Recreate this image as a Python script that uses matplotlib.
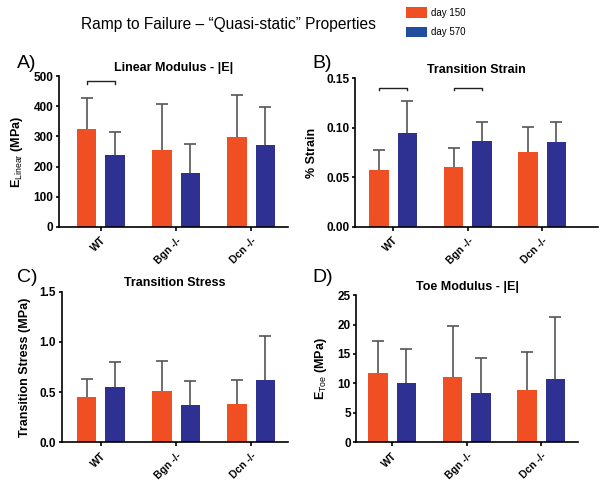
import numpy as np
import matplotlib
matplotlib.use("Agg")
import matplotlib.pyplot as plt
from matplotlib.patches import Patch

# datos de las barras
groups = ["WT", "Bgn -/-", "Dcn -/-"]
series = ["day 150", "day 570"]

lin_mod_150 = [325, 254, 299]
lin_mod_150_top = [427, 407, 438]
lin_mod_570 = [237, 180, 273]
lin_mod_570_top = [316, 276, 399]

strain_150 = [0.057, 0.060, 0.075]
strain_150_top = [0.078, 0.080, 0.101]
strain_570 = [0.095, 0.087, 0.086]
strain_570_top = [0.127, 0.106, 0.106]

stress_150 = [0.45, 0.51, 0.38]
stress_150_top = [0.63, 0.81, 0.62]
stress_570 = [0.55, 0.37, 0.62]
stress_570_top = [0.80, 0.61, 1.06]

toe_150 = [11.7, 11.0, 8.8]
toe_150_top = [17.2, 19.8, 15.4]
toe_570 = [10.1, 8.4, 10.8]
toe_570_top = [15.9, 14.4, 21.3]

orange = "#F04E23"
blue = "#2E3192"
err_col = "#555555"

plt.rcParams["font.family"] = ["Liberation Sans", "DejaVu Sans"]
plt.rcParams["mathtext.fontset"] = "custom"
plt.rcParams["mathtext.rm"] = "Liberation Sans"

fig = plt.figure(figsize=(6, 4.88), dpi=100)


def panel(rect, title, ylabel, v150, t150, v570, t570, ylim, yticks, fmt, xlim, brackets=None):
    ax = fig.add_axes(rect)
    x = np.arange(len(groups))
    off = 0.19
    w = 0.26
    ax.bar(x - off, v150, w, color=orange, zorder=2)
    ax.bar(x + off, v570, w, color=blue, zorder=2)
    # barras de error: simetricas, la mitad inferior queda tapada por la barra
    for xs, v, t in ((x - off, v150, t150), (x + off, v570, t570)):
        err = np.array(t) - np.array(v)
        ax.errorbar(xs, v, yerr=err, fmt="none",
                    ecolor=err_col, elinewidth=1.2, capsize=4, capthick=1.2, zorder=1)
    if brackets:
        for gi, yb in brackets:
            h = (ylim[1] - ylim[0]) * 0.015
            ax.plot([gi - off, gi - off, gi + off, gi + off], [yb - h, yb, yb, yb - h],
                    color="#222222", lw=1, clip_on=False)
    ax.set_xlim(*xlim)
    ax.set_ylim(*ylim)
    ax.set_yticks(yticks)
    ax.set_yticklabels([fmt.format(v) for v in yticks], fontweight="bold", fontsize=8.5)
    ax.set_xticks(x)
    ax.set_xticklabels(groups, rotation=45, ha="right", rotation_mode="anchor",
                       fontweight="bold", fontsize=7.5)
    for s in ("top", "right"):
        ax.spines[s].set_visible(False)
    ax.spines["left"].set_linewidth(1.2)
    ax.spines["bottom"].set_linewidth(1.2)
    ax.tick_params(axis="y", width=1.2, length=2.5, pad=1.5)
    ax.tick_params(axis="x", width=1.2, length=3, pad=3)
    ax.set_title(title, fontweight="bold", fontsize=9, pad=4)
    ax.set_ylabel(ylabel, fontweight="bold", fontsize=9, labelpad=6)
    return ax


panel([0.098, 0.535, 0.382, 0.309], "Linear Modulus - |E|",
      r"E$_{\mathrm{Linear}}$ (MPa)", lin_mod_150, lin_mod_150_top,
      lin_mod_570, lin_mod_570_top, (0, 500), [0, 100, 200, 300, 400, 500], "{:.0f}",
      (-0.56, 2.49), brackets=[(0, 483)])
panel([0.592, 0.535, 0.405, 0.305], "Transition Strain", "% Strain",
      strain_150, strain_150_top, strain_570, strain_570_top, (0, 0.15),
      [0, 0.05, 0.10, 0.15], "{:.2f}", (-0.51, 2.75),
      brackets=[(0, 0.14), (1, 0.14)])
panel([0.103, 0.094, 0.377, 0.308], "Transition Stress", "Transition Stress (MPa)",
      stress_150, stress_150_top, stress_570, stress_570_top, (0, 1.5),
      [0, 0.5, 1.0, 1.5], "{:.1f}", (-0.52, 2.49))
panel([0.594, 0.094, 0.369, 0.301], "Toe Modulus - |E|",
      r"E$_{\mathrm{Toe}}$ (MPa)", toe_150, toe_150_top, toe_570, toe_570_top,
      (0, 25), [0, 5, 10, 15, 20, 25], "{:.0f}", (-0.48, 2.49))

# letras de los paneles
for lx, ly, letter in ((17, 64, "A)"), (312, 64, "B)"), (17, 277, "C)"), (312, 277, "D)")):
    fig.text(lx / 600, 1 - ly / 488, letter, fontsize=14, va="center")

fig.text(228 / 600, 1 - 24 / 488, "Ramp to Failure \u2013 \u201cQuasi-static\u201d Properties",
         fontsize=11.2, ha="center", va="center")
handles = [Patch(facecolor=orange), Patch(facecolor="#1F4E9E")]
fig.legend(handles, series, loc="upper left", bbox_to_anchor=(0.662, 1.003),
           frameon=False, fontsize=7, handlelength=2.2, handleheight=1.3,
           labelspacing=0.9, handletextpad=0.4)

fig.savefig("out.png", dpi=100)
